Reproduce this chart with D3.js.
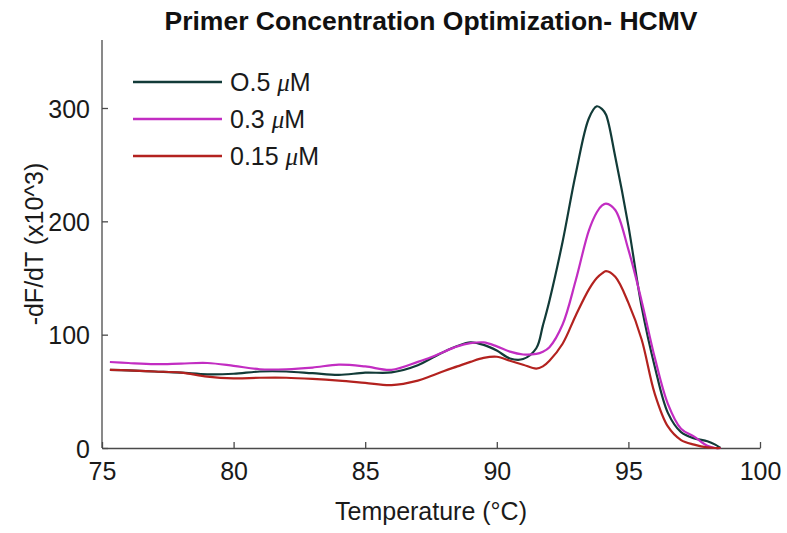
<!DOCTYPE html>
<html>
<head>
<meta charset="utf-8">
<script src="https://cdn.jsdelivr.net/npm/d3@7"></script>
<style>
  html, body { margin: 0; padding: 0; background: #fff; }
  svg { display: block; font-family: "Liberation Sans", Arial, sans-serif; }
</style>
</head>
<body>
<div id="chart"></div>
<script>
// temperature grid (°C)
const temps = [75.3, 76, 77, 78, 79, 80, 81, 82, 83, 84, 85, 86, 87, 87.5, 88, 88.5, 89, 89.5, 90, 90.5,
  91, 91.5, 91.75, 92, 92.5, 93, 93.5, 93.8, 94, 94.15, 94.5, 95, 95.5, 96, 96.5, 97, 97.5, 98, 98.3, 98.5];

// -dF/dT (x10^3) for each primer concentration
const conc05 = [69, 68.5, 67.5, 66.5, 65, 65.5, 67.5, 67.5, 66, 64.5, 66.5, 66.7, 73, 79, 85, 90, 93.2, 91, 86, 79,
  78.5, 88, 108, 130, 182, 242, 291, 301.5, 299, 294, 257, 196, 125, 72, 31, 14, 8.5, 6, 3, 0];
const conc03 = [75.9, 75, 74, 74.5, 75, 72.5, 69.5, 69.5, 71, 73.5, 72, 69, 76, 80, 85, 89.7, 92.5, 93.2, 89.7, 85,
  82.5, 83, 85, 89, 109, 148, 192, 208, 214, 215.6, 210, 175, 130, 80, 39, 17, 10, 2, 0, 0];
const conc015 = [69, 68.5, 67.5, 66.5, 63, 61.5, 62, 62, 61, 59.5, 57.5, 55.5, 59.5, 63.5, 68, 72, 76, 79.5, 80.5, 77,
  73.5, 70, 72, 77, 92, 117, 140, 150, 154, 156, 151, 128, 96, 48, 19, 7, 3, 0.5, 0, 0];

const seriesNames = ["O.5 ", "0.3 ", "0.15 "];
const seriesColors = ["#123b38", "#c22dc2", "#b3221f"];
const seriesValues = [conc05, conc03, conc015];

const xTicks = [75, 80, 85, 90, 95, 100];
const yTicks = [0, 100, 200, 300];

const width = 787, height = 533;
const margin = { top: 40, right: 27, bottom: 85, left: 102 };

const svg = d3.select("#chart").append("svg")
  .attr("width", width)
  .attr("height", height)
  .attr("viewBox", `0 0 ${width} ${height}`);

const x = d3.scaleLinear().domain([75, 100]).range([margin.left, width - margin.right]);
const y = d3.scaleLinear().domain([0, 360]).range([height - margin.bottom, margin.top]);

// axes, ticks pointing inward, no box
const xAxis = svg.append("g")
  .attr("transform", `translate(0,${y(0)})`)
  .call(d3.axisBottom(x).tickValues(xTicks).tickSize(-6).tickPadding(14).tickSizeOuter(0));
const yAxis = svg.append("g")
  .attr("transform", `translate(${x(75)},0)`)
  .call(d3.axisLeft(y).tickValues(yTicks).tickSize(-6).tickPadding(12).tickSizeOuter(0));

[xAxis, yAxis].forEach(g => {
  g.select(".domain").attr("stroke", "#4a4a4a").attr("stroke-width", 1.3);
  g.selectAll(".tick line").attr("stroke", "#4a4a4a").attr("stroke-width", 1.3);
  g.selectAll(".tick text")
    .attr("fill", "#1a1a1a")
    .attr("font-size", 25)
    .attr("font-family", "Liberation Sans, Arial, sans-serif");
});
// MATLAB-style: the y axis line runs to the top of the plot box
yAxis.select(".domain").attr("d", `M0,${y(0)}V${y(360)}`);
xAxis.selectAll(".tick text").attr("dy", "0.71em");
yAxis.selectAll(".tick text").attr("dy", "0.36em");

const line = d3.line()
  .x((d, i) => x(temps[i]))
  .y(d => y(Math.max(0, d)))
  .curve(d3.curveCatmullRom.alpha(0.5));

seriesValues.forEach((vals, i) => {
  svg.append("path")
    .attr("d", line(vals))
    .attr("fill", "none")
    .attr("stroke", seriesColors[i])
    .attr("stroke-width", 2.2)
    .attr("stroke-linejoin", "round");
});

// legend
const legend = svg.append("g").attr("transform", "translate(133,82)");
seriesNames.forEach((name, i) => {
  const row = legend.append("g").attr("transform", `translate(0,${i * 37})`);
  row.append("line")
    .attr("x1", 0).attr("x2", 89)
    .attr("stroke", seriesColors[i])
    .attr("stroke-width", 2.4);
  const t = row.append("text")
    .attr("x", 97)
    .attr("dy", "0.36em")
    .attr("font-size", 25)
    .attr("fill", "#1a1a1a");
  t.append("tspan").text(name);
  t.append("tspan")
    .attr("font-family", "Liberation Serif, serif")
    .attr("font-style", "italic")
    .text("\u03bc");
  t.append("tspan").text("M");
});

// title and axis labels
svg.append("text")
  .attr("x", (x(75) + x(100)) / 2)
  .attr("y", 30)
  .attr("text-anchor", "middle")
  .attr("font-size", 26.5)
  .attr("font-weight", "bold")
  .attr("fill", "#111")
  .text("Primer Concentration Optimization- HCMV");

svg.append("text")
  .attr("x", (x(75) + x(100)) / 2)
  .attr("y", 520)
  .attr("text-anchor", "middle")
  .attr("font-size", 25)
  .attr("fill", "#1a1a1a")
  .text("Temperature (\u00b0C)");

svg.append("text")
  .attr("transform", `translate(43,${(y(0) + y(360)) / 2}) rotate(-90)`)
  .attr("text-anchor", "middle")
  .attr("font-size", 25)
  .attr("fill", "#1a1a1a")
  .text("-dF/dT (x10^3)");
</script>
</body>
</html>
